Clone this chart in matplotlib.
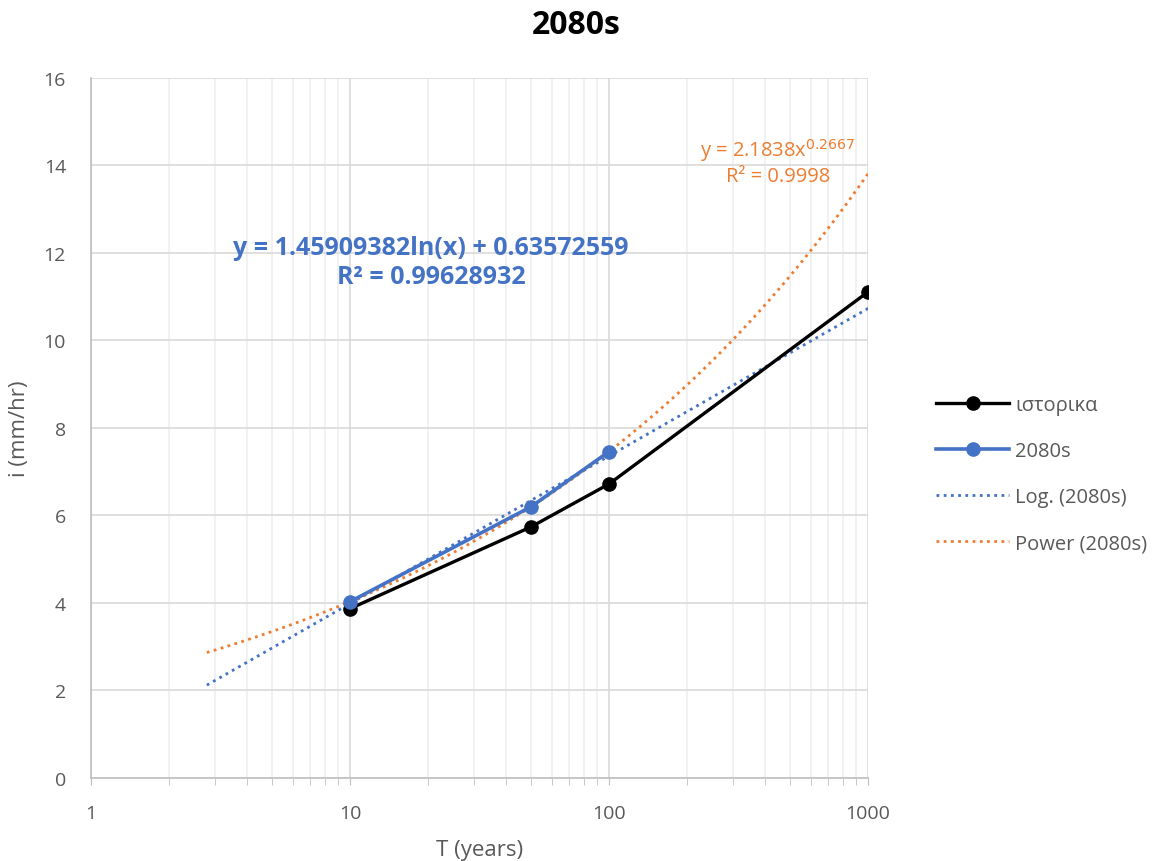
import numpy as np
import matplotlib.pyplot as plt
from matplotlib.ticker import FixedLocator, NullFormatter

plt.rcParams['font.family'] = ['Open Sans', 'DejaVu Sans']

# return periods (years) and intensities (mm/hr)
T_hist = [10, 50, 100, 1000]
i_hist = [3.87, 5.74, 6.72, 11.11]

T_2080 = [10, 50, 100]
i_2080 = [4.03, 6.20, 7.46]

# trendline range (Excel forecasts backward to ~2.8)
T_trend_min = 2.8
T_trend_max = 1000

# fits on the 2080s series, as Excel does
a_log, b_log = np.polyfit(np.log(T_2080), i_2080, 1)
p_exp, p_lnc = np.polyfit(np.log(T_2080), np.log(i_2080), 1)

t = np.geomspace(T_trend_min, T_trend_max, 200)
log_trend = a_log * np.log(t) + b_log
pow_trend = np.exp(p_lnc) * t ** p_exp

fig = plt.figure(figsize=(11.52, 8.62), dpi=100)
ax = fig.add_axes([0.079, 0.0963, 0.6745, 0.8121])

blue = "#4472c4"
orange = "#ed7d31"

ax.plot(T_hist, i_hist, color="black", lw=2.4, marker="o", ms=9.5, label="ιστορικα", zorder=4)
ax.plot(T_2080, i_2080, color=blue, lw=2.6, marker="o", ms=9.5, label="2080s", zorder=5)
ax.plot(t, log_trend, color=blue, lw=2, ls=(0, (1, 1.6)), label="Log. (2080s)", zorder=3)
ax.plot(t, pow_trend, color=orange, lw=2, ls=(0, (1, 1.6)), label="Power (2080s)", zorder=3)

ax.set_xscale("log")
ax.set_xlim(1, 1000)
ax.set_ylim(0, 16)
ax.set_yticks(range(0, 17, 2))
ax.set_xticks([1, 10, 100, 1000])
ax.set_xticklabels(["1", "10", "100", "1000"])
minors = [m * d for d in (1, 10, 100) for m in range(2, 10)]
ax.xaxis.set_minor_locator(FixedLocator(minors))
ax.xaxis.set_minor_formatter(NullFormatter())

ax.grid(True, which="major", color="#d9d9d9", lw=1.2)
ax.grid(True, which="minor", axis="x", color="#efefef", lw=1.2)
ax.set_axisbelow(True)

for s in ("top", "right"):
    ax.spines[s].set_visible(False)
for s in ("left", "bottom"):
    ax.spines[s].set_color("#bfbfbf")
    ax.spines[s].set_linewidth(1.2)

ax.tick_params(axis="y", length=0, labelsize=14, labelcolor="#595959", pad=18)
ax.tick_params(axis="x", which="both", direction="out", length=5, color="#bfbfbf",
               labelsize=14, labelcolor="#595959", pad=14)

ax.set_xlabel("T (years)", fontsize=16, color="#595959", labelpad=12)
ax.set_ylabel("i (mm/hr)", fontsize=16, color="#595959", labelpad=10)
fig.suptitle("2080s", fontsize=23, fontweight="bold", x=0.5, y=0.99)

ax.text(0.4376, 0.737, "y = 1.45909382ln(x) + 0.63572559\nR² = 0.99628932",
        transform=ax.transAxes, ha="center", va="center", color=blue,
        fontsize=18, fontweight="bold", linespacing=1.25)
ax.text(0.884, 0.881, "y = 2.1838x$^{0.2667}$\nR² = 0.9998",
        transform=ax.transAxes, ha="center", va="center", color=orange,
        fontsize=14.5, linespacing=1.2)

ax.legend(loc="center left", bbox_to_anchor=(1.088, 0.434), frameon=False,
          fontsize=14.5, labelcolor="#595959", handlelength=3.6, handletextpad=0.3,
          labelspacing=1.3, borderpad=0, borderaxespad=0)

fig.savefig("out.png", dpi=100)
